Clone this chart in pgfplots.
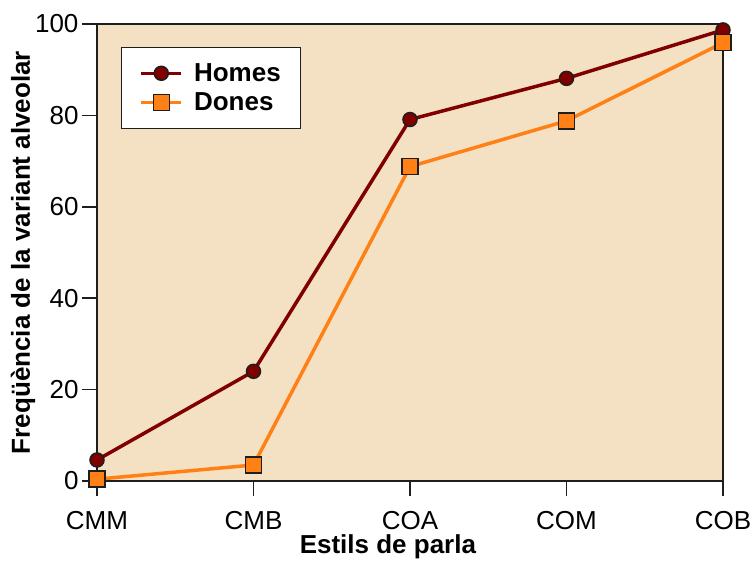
\documentclass[border=0pt]{standalone}
\usepackage{pgfplots}
\pgfplotsset{compat=1.18}
\usepackage{fontspec}
\setmainfont{Liberation Sans}
\definecolor{bgc}{RGB}{244,225,195}
\definecolor{homes}{RGB}{128,0,0}
\definecolor{dones}{RGB}{255,128,20}
\definecolor{edge}{RGB}{30,30,30}
\begin{document}
\begin{tikzpicture}
\begin{axis}[
  name=ax,
  scale only axis, width=626pt, height=457pt,
  xmin=0, xmax=4, ymin=0, ymax=100,
  xtick={0,1,2,3,4},
  xticklabels={CMM,CMB,COA,COM,COB},
  ytick={0,20,40,60,80,100},
  xtick pos=bottom, ytick pos=left,
  xtick align=outside, ytick align=outside,
  major tick length=15pt,
  every tick/.style={edge, line width=1.5pt},
  axis line style={edge, line width=1.5pt},
  axis background/.style={fill=bgc},
  clip=false,
  /pgf/number format/assume math mode=true,
  ticklabel style={font=\fontsize{26}{31}\selectfont},
  xticklabel style={yshift=-12pt},
  xlabel={\textbf{Estils de parla}},
  ylabel={\textbf{Freqüència de la variant alveolar}},
  label style={font=\fontsize{26}{31}\selectfont},
  xlabel style={xshift=-22pt, yshift=2pt},
  ylabel style={yshift=-7pt},
  legend style={at={(0.038,0.95)}, anchor=north west, fill=white, draw=edge, line width=1.5pt,
    font=\fontsize{26}{31}\selectfont\bfseries, inner xsep=18pt, inner ysep=14pt,
    row sep=6pt, /tikz/every odd column/.append style={column sep=9pt}},
  legend cell align=left,
  legend image code/.code={
    \draw[mark repeat=2, mark phase=2, #1] plot coordinates {(0pt,0pt) (20pt,0pt) (40pt,0pt)};
  },
]
\addplot[homes, line width=3.5pt, mark=*, mark size=7pt,
  mark options={fill=homes, draw=edge, line width=1.5pt}]
  coordinates {(0,4.6) (1,24) (2,79.1) (3,88.1) (4,98.7)};
\addlegendentry{Homes}
\addplot[dones, line width=3.5pt, mark=square*, mark size=8pt,
  mark options={fill=dones, draw=edge, line width=1.5pt}]
  coordinates {(0,0.4) (1,3.5) (2,68.8) (3,78.8) (4,95.9)};
\addlegendentry{Dones}
\end{axis}
\pgfresetboundingbox
\path[use as bounding box] ([xshift=-97pt,yshift=-84pt]ax.south west) rectangle ([xshift=29pt,yshift=24pt]ax.north east);
\end{tikzpicture}
\end{document}
